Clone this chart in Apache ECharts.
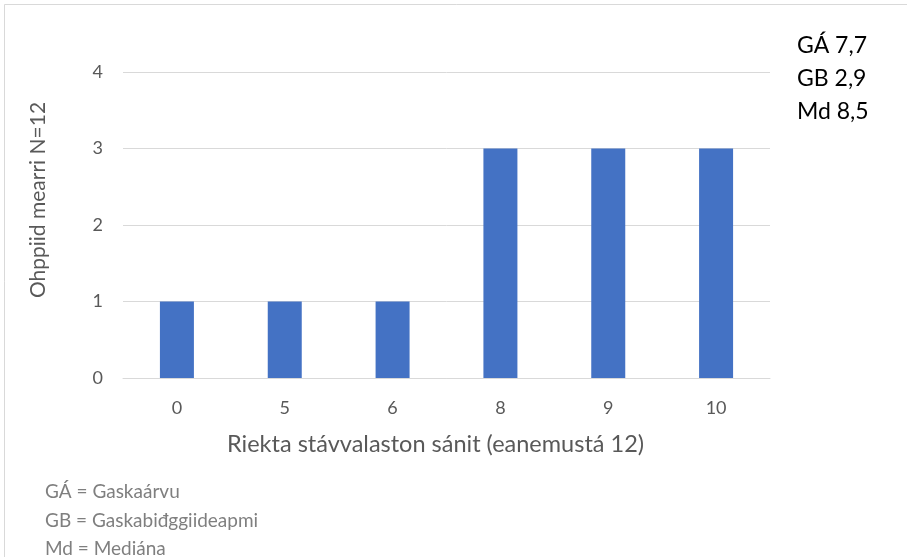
<!DOCTYPE html>
<html>
<head>
<meta charset="utf-8">
<script src="https://cdn.jsdelivr.net/npm/echarts@6/dist/echarts.min.js"></script>
<style>
    html, body { margin: 0; padding: 0; background: #fff; }
    #chart { width: 907px; height: 557px; }
</style>
</head>
<body>
<div id="chart"></div>
<script>
// data
const categories = ['0', '5', '6', '8', '9', '10'];
const counts = [1, 1, 1, 3, 3, 3];
const statLines = ['GÁ 7,7', 'GB 2,9', 'Md 8,5'];
const noteLines = ['GÁ = Gaskaárvu', 'GB = Gaskabiđggiideapmi', 'Md = Mediána'];
const yName = 'Ohppiid mearri N=12';

const font = 'Lato, "Open Sans", sans-serif';
const chart = echarts.init(document.getElementById('chart'));

chart.setOption({
    backgroundColor: '#fff',
    animation: false,
    grid: { left: 123, right: 137, top: 72, bottom: 179 },
    xAxis: {
        type: 'category',
        data: categories,
        name: 'Riekta stávvalaston sánit (eanemustá 12)',
        nameLocation: 'middle',
        nameGap: 54,
        nameTextStyle: { color: '#595959', fontSize: 23.5, fontFamily: font, padding: [0, 22, 0, 0] },
        axisLine: { lineStyle: { color: '#d9d9d9' } },
        axisTick: { show: false },
        axisLabel: { color: '#595959', fontSize: 18, fontFamily: font, margin: 21 }
    },
    yAxis: {
        type: 'value',
        min: 0,
        max: 4,
        interval: 1,
        axisLine: { show: false },
        axisTick: { show: false },
        splitLine: { lineStyle: { color: '#d9d9d9' } },
        axisLabel: { color: '#595959', fontSize: 18, fontFamily: font, margin: 20 }
    },
    series: [{
        type: 'bar',
        data: counts,
        barWidth: 34,
        itemStyle: { color: '#4472c4' }
    }],
    graphic: [
        {
            type: 'rect',
            shape: { x: 4.5, y: 4.5, width: 910, height: 560 },
            style: { fill: 'none', stroke: '#d9d9d9', lineWidth: 1 },
            silent: true
        },
        {
            // y-axis title, placed like the reference (slightly above centre)
            type: 'text',
            x: 38,
            y: 200,
            rotation: Math.PI / 2,
            style: {
                text: yName,
                fill: '#595959',
                font: '21px ' + font,
                align: 'center',
                verticalAlign: 'middle'
            }
        },
        {
            type: 'text',
            left: 797,
            top: 29,
            style: {
                text: statLines.join('\n'),
                fill: '#000',
                font: '23px ' + font,
                lineHeight: 33
            }
        },
        {
            type: 'text',
            left: 45,
            top: 478,
            style: {
                text: noteLines.join('\n'),
                fill: '#7f7f7f',
                font: '19px ' + font,
                lineHeight: 28.5
            }
        }
    ]
});
</script>
</body>
</html>
